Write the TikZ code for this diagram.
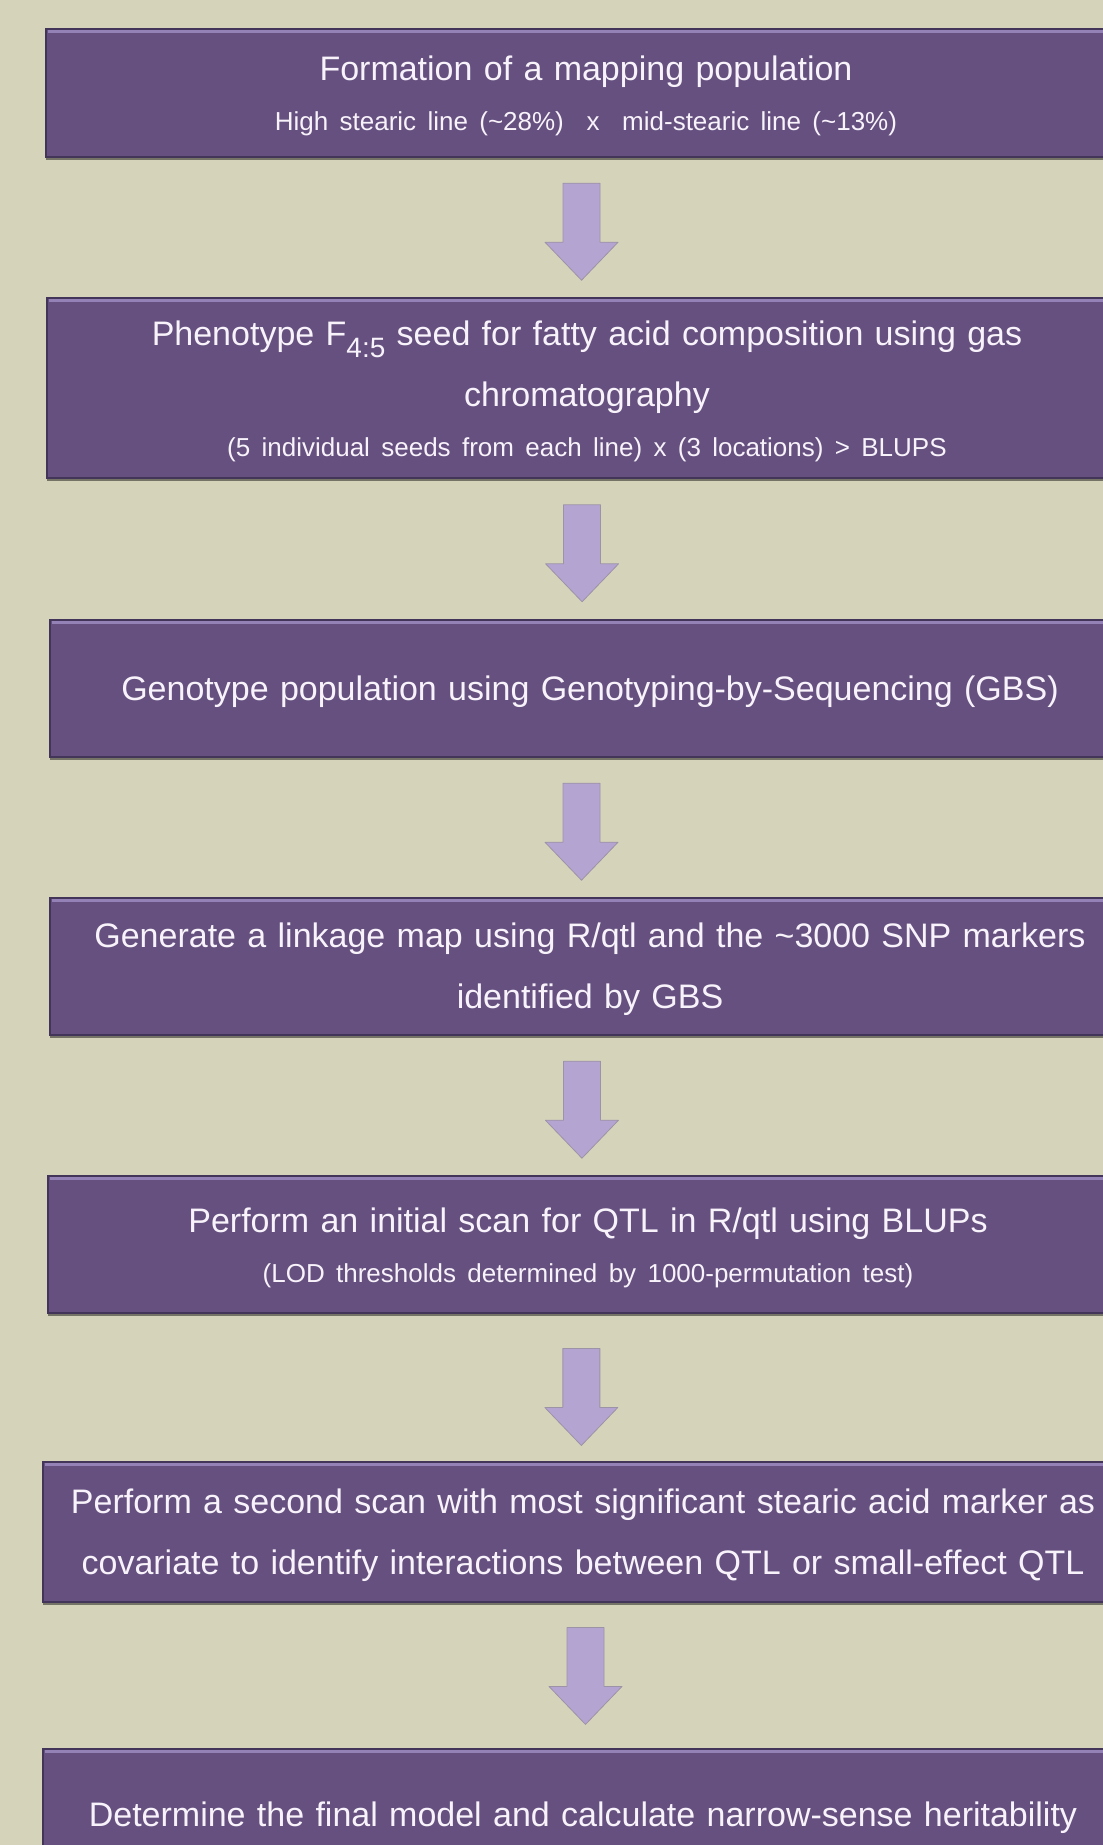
\documentclass[tikz,border=0pt]{standalone}
\usepackage{fontspec}
\setmainfont[WordSpace=1.3]{Liberation Sans}
\usetikzlibrary{positioning, calc, shadows}
\definecolor{bgBeige}{HTML}{D6D3BB}
\definecolor{stepPurple}{HTML}{65507F}
\definecolor{stepEdge}{HTML}{43355A}
\definecolor{stepLight}{HTML}{9482B6}
\definecolor{arrowLav}{HTML}{B4A4D2}
\definecolor{arrowEdge}{HTML}{9C93A6}
\definecolor{textWhite}{HTML}{F8F2FA}
\newcommand{\mainsize}{\fontsize{34}{61}\selectfont}
\newcommand{\subsize}{\fontsize{26}{26}\selectfont}
\newcommand{\topstrut}{\rule{0pt}{31pt}}

\begin{document}
\begin{tikzpicture}[x=1pt, y=1pt,
    stepbox/.style={rectangle, draw=stepEdge, line width=1.5pt, fill=stepPurple, text=textWhite,
        minimum width=1080pt, text width=1060pt, align=center, inner sep=0pt, outer sep=0pt, font=\mainsize,
        drop shadow={shadow xshift=0pt, shadow yshift=-3pt, opacity=0.45, fill=black}},
    downarrow/.pic={
        \draw[fill=arrowLav, draw=arrowEdge, line width=0.8pt, line join=round]
            (-18.5,48.5) -- (18.5,48.5) -- (18.5,-10.5) -- (36.5,-10.5) -- (0,-48.5)
            -- (-36.5,-10.5) -- (-18.5,-10.5) -- cycle;
    },
]
    \useasboundingbox (0,0) rectangle (1103,-1845);
    \fill[bgBeige] (0,0) rectangle (1103,-1845);

    % the seven steps
    \node[stepbox, minimum height=128pt] (b1) at (586,-93)
        {\topstrut Formation of a mapping population\\[-11pt]
         {\subsize High stearic line (\textasciitilde28\%)\ \ x\ \ mid-stearic line (\textasciitilde13\%)}};
    \node[stepbox, minimum height=180pt, below=141pt of b1, xshift=1pt] (b2)
        {\topstrut Phenotype F\raisebox{-12pt}{\fontsize{28}{28}\selectfont 4:5} seed for fatty acid composition using gas\\
         chromatography\\[-11pt]
         {\subsize (5 individual seeds from each line) x (3 locations) > BLUPS}};
    \node[stepbox, minimum height=137pt, below=142pt of b2, xshift=3pt] (b3)
        {\topstrut Genotype population using Genotyping-by-Sequencing (GBS)};
    \node[stepbox, minimum height=137pt, below=141pt of b3] (b4)
        {\topstrut Generate a linkage map using R/qtl and the \textasciitilde3000 SNP markers\\
         identified by GBS};
    \node[stepbox, minimum height=137pt, below=141pt of b4, xshift=-2pt] (b5)
        {\topstrut Perform an initial scan for QTL in R/qtl using BLUPs\\[-11pt]
         {\subsize (LOD thresholds determined by 1000-permutation test)}};
    \node[stepbox, minimum height=140pt, below=149pt of b5, xshift=-5pt] (b6)
        {\topstrut Perform a second scan with most significant stearic acid marker as\\
         covariate to identify interactions between QTL or small-effect QTL};
    \node[stepbox, minimum height=137pt, below=147pt of b6] (b7)
        {Determine the final model and calculate narrow-sense heritability};

    % light edge along the top of each step
    \foreach \b in {b1,b2,b3,b4,b5,b6,b7}
        \draw[stepLight, line width=2.5pt] ($(\b.north west)+(1.5,-2.5)$) -- ($(\b.north east)+(-1.5,-2.5)$);

    % arrows between the steps
    \foreach \a/\b/\dx/\dy in {b1/b2/-5/0, b2/b3/-6.5/0, b3/b4/-8.5/0, b4/b5/-7/0, b5/b6/-4/-5, b6/b7/2.5/4}
        \path ($(\a.south)!0.53!(\b.north)+(\dx,\dy)$) pic{downarrow};
\end{tikzpicture}
\end{document}
